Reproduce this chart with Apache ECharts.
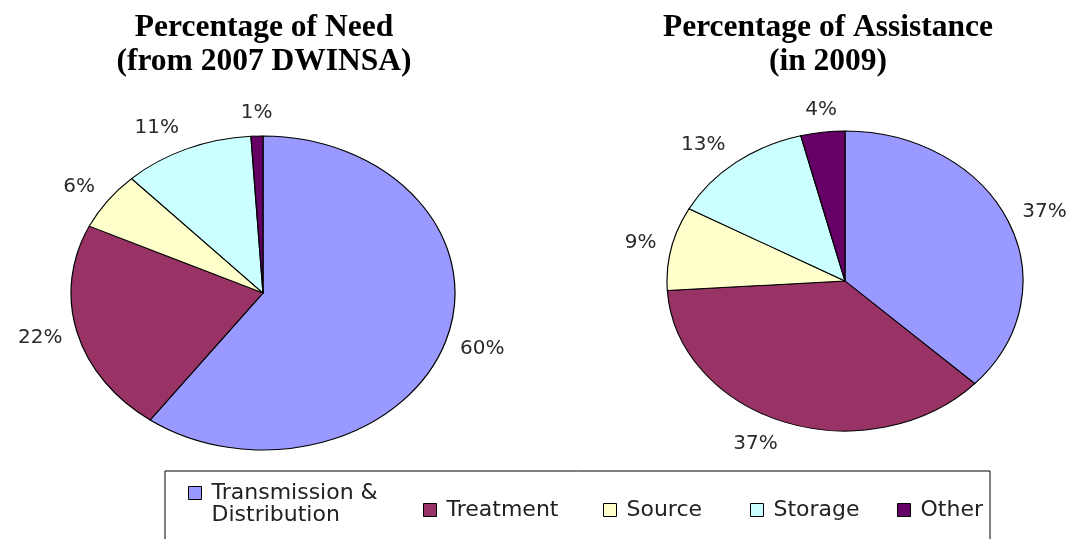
<!DOCTYPE html>
<html><head><meta charset="utf-8">
<script src="https://cdn.jsdelivr.net/npm/echarts@6/dist/echarts.min.js"></script>
<style>
html,body{margin:0;padding:0;background:#fff;}
#wrap{position:relative;width:1071px;height:539px;overflow:hidden;background:#fff;}
.pie{position:absolute;top:0;height:539px;}
#main{position:absolute;left:0;top:0;width:1071px;height:539px;}
</style></head><body>
<div id="wrap"><div id="pieL" class="pie"></div><div id="pieR" class="pie"></div><div id="main"></div></div>
<script>
// ---- data ----
const categories = ['Transmission & Distribution', 'Treatment', 'Source', 'Storage', 'Other'];
const needValues = [60, 22, 6, 11, 1];
const assistanceValues = [37, 37, 9, 13, 4];
const titleTexts = ['Percentage of Need\n(from 2007 DWINSA)', 'Percentage of Assistance\n(in 2009)'];

// ---- styling / layout ----
const colors = ['#9999ff', '#993366', '#ffffcc', '#ccffff', '#660066'];
const pies = [
  { id: 'pieL', values: needValues, cx: 263, cy: 293, rx: 192, ry: 157, left: 0, width: 535, titleX: 264 },
  { id: 'pieR', values: assistanceValues, cx: 845, cy: 281, rx: 178, ry: 150, left: 535, width: 536, titleX: 828 }
];
const GAP_X = 12, GAP_Y = 14;
const labelFont = { fontFamily: 'DejaVu Sans', fontSize: 20, color: '#2a2a2a' };
const legendLeft = [188, 423, 603, 750, 897];
const legendBox = { x: 165, y: 471, w: 825, h: 120 };

function items(values, transparent) {
  return categories.map((n, i) => ({
    name: n, value: values[i],
    itemStyle: { color: transparent ? 'rgba(0,0,0,0)' : colors[i] }
  }));
}

// stretched pie drawings (ellipses)
pies.forEach(p => {
  const el = document.getElementById(p.id);
  el.style.left = p.left + 'px';
  el.style.width = p.width + 'px';
  el.style.transformOrigin = (p.cx - p.left) + 'px 0px';
  el.style.transform = 'scaleX(' + (p.rx / p.ry) + ')';
  const c = echarts.init(el, null, { renderer: 'svg' });
  c.setOption({
    animation: false,
    series: [{
      type: 'pie', silent: true, center: [p.cx - p.left, p.cy], radius: p.ry,
      startAngle: 90, clockwise: true, avoidLabelOverlap: false,
      label: { show: false }, labelLine: { show: false },
      itemStyle: { borderColor: '#000', borderWidth: 1 },
      emphasis: { disabled: true },
      data: items(p.values, false)
    }]
  });
});

function makeLabelLayout(p) {
  const total = p.values.reduce((a, b) => a + b, 0);
  return function (params) {
    const idx = params.dataIndex;
    let cum = 0;
    for (let i = 0; i < idx; i++) cum += p.values[i];
    const mid = (cum + p.values[idx] / 2) / total * Math.PI * 2;
    const s = Math.sin(mid), c = Math.cos(mid);
    const ax = p.cx + (p.rx + GAP_X) * s;
    const ay = p.cy - (p.ry + GAP_Y) * c;
    const align = Math.abs(s) < 0.2 ? 'center' : (s > 0 ? 'left' : 'right');
    return {
      x: ax + (align === 'left' ? 3 : align === 'right' ? -3 : 0),
      y: ay - c * 9,
      align: align, verticalAlign: 'middle'
    };
  };
}

const main = echarts.init(document.getElementById('main'));
main.setOption({
  animation: false,
  title: pies.map((p, i) => ({
    text: titleTexts[i], left: p.titleX, top: 11, textAlign: 'center', padding: 0,
    textStyle: { fontFamily: 'Liberation Serif', fontWeight: 'bold', fontSize: 31.5, lineHeight: 34, color: '#000' }
  })),
  graphic: [{
    type: 'rect', z: -1, silent: true,
    shape: { x: legendBox.x, y: legendBox.y, width: legendBox.w, height: legendBox.h },
    style: { fill: '#fff', stroke: '#000', lineWidth: 1 }
  }],
  legend: categories.map((n, i) => ({
    left: legendLeft[i], top: i === 0 ? 460 : 499, orient: 'horizontal', icon: 'rect',
    itemWidth: 13, itemHeight: 13, padding: 0,
    // two-line entry: an empty leading line keeps the swatch level with the first line
    formatter: s => (s.indexOf('& ') >= 0 ? '\n' + s.replace('& ', '&\n') : s),
    textStyle: { fontFamily: 'DejaVu Sans', fontSize: 22, color: '#222', lineHeight: 22, padding: [0, 0, 0, 5] },
    selectedMode: false,
    data: [{ name: n, itemStyle: { color: colors[i], borderColor: '#000', borderWidth: 1 } }]
  })),
  series: pies.map(p => ({
    type: 'pie', silent: true, center: [p.cx, p.cy], radius: p.ry,
    startAngle: 90, clockwise: true, avoidLabelOverlap: false,
    label: Object.assign({ show: true, position: 'outside', formatter: '{c}%' }, labelFont),
    labelLine: { show: false },
    labelLayout: makeLabelLayout(p),
    emphasis: { disabled: true },
    data: items(p.values, true)
  }))
});
</script>
</body></html>
